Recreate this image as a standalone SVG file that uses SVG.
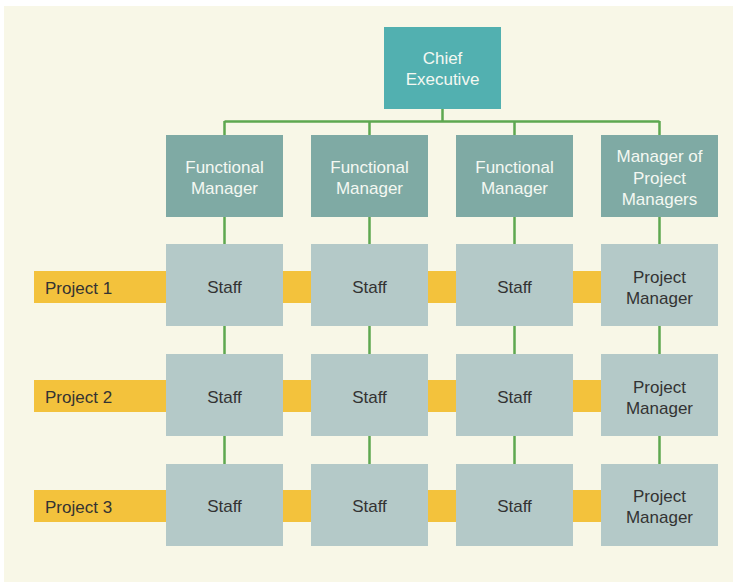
<svg xmlns="http://www.w3.org/2000/svg" width="733" height="582" viewBox="0 0 733 582">
<style>
.bg{fill:#F8F7E7}
.bar{fill:#F3C23C}
.ceo{fill:#52B0B0}
.fm{fill:#7FAAA4}
.st{fill:#B4C9C8}
.ln{stroke:#5EA850;stroke-width:2.5;fill:none}
text{font-family:"Liberation Sans",Arial,sans-serif;font-size:17px}
.w{fill:#F4F8F2;text-anchor:middle}
.d{fill:#333333;text-anchor:middle}
.p{fill:#333333}
</style>
<rect class="bg" x="4" y="6" width="729" height="576"/>
<g id="connectors">
<path class="ln" d="M442.5 108V121.5M224.5 121.5H659.5M224.5 121V135M369.5 121V135M514.5 121V135M659.5 121V135"/>
<path class="ln" d="M224.5 217V464M369.5 217V464M514.5 217V464M659.5 217V464"/>
</g>
<g id="project-bars">
<rect class="bar" x="34" y="271" width="567" height="32"/>
<rect class="bar" x="34" y="380" width="567" height="32"/>
<rect class="bar" x="34" y="490" width="567" height="32"/>
<text class="p" x="45" y="294">Project 1</text>
<text class="p" x="45" y="403">Project 2</text>
<text class="p" x="45" y="513">Project 3</text>
</g>
<g id="chief"><rect class="ceo" x="384" y="27" width="117" height="82"/><text class="w" x="442.5" y="64">Chief</text><text class="w" x="442.5" y="85">Executive</text></g>
<g id="fm1"><rect class="fm" x="166" y="135" width="117" height="82"/><text class="w" x="224.5" y="173">Functional</text><text class="w" x="224.5" y="194">Manager</text></g>
<g id="fm2"><rect class="fm" x="311" y="135" width="117" height="82"/><text class="w" x="369.5" y="173">Functional</text><text class="w" x="369.5" y="194">Manager</text></g>
<g id="fm3"><rect class="fm" x="456" y="135" width="117" height="82"/><text class="w" x="514.5" y="173">Functional</text><text class="w" x="514.5" y="194">Manager</text></g>
<g id="mpm"><rect class="fm" x="601" y="135" width="117" height="82"/><text class="w" x="659.5" y="162">Manager of</text><text class="w" x="659.5" y="184">Project</text><text class="w" x="659.5" y="205">Managers</text></g>
<g id="s11"><rect class="st" x="166" y="244" width="117" height="82"/><text class="d" x="224.5" y="293">Staff</text></g>
<g id="s12"><rect class="st" x="311" y="244" width="117" height="82"/><text class="d" x="369.5" y="293">Staff</text></g>
<g id="s13"><rect class="st" x="456" y="244" width="117" height="82"/><text class="d" x="514.5" y="293">Staff</text></g>
<g id="pm1"><rect class="st" x="601" y="244" width="117" height="82"/><text class="d" x="659.5" y="283">Project</text><text class="d" x="659.5" y="304">Manager</text></g>
<g id="s21"><rect class="st" x="166" y="354" width="117" height="82"/><text class="d" x="224.5" y="403">Staff</text></g>
<g id="s22"><rect class="st" x="311" y="354" width="117" height="82"/><text class="d" x="369.5" y="403">Staff</text></g>
<g id="s23"><rect class="st" x="456" y="354" width="117" height="82"/><text class="d" x="514.5" y="403">Staff</text></g>
<g id="pm2"><rect class="st" x="601" y="354" width="117" height="82"/><text class="d" x="659.5" y="393">Project</text><text class="d" x="659.5" y="414">Manager</text></g>
<g id="s31"><rect class="st" x="166" y="464" width="117" height="82"/><text class="d" x="224.5" y="512">Staff</text></g>
<g id="s32"><rect class="st" x="311" y="464" width="117" height="82"/><text class="d" x="369.5" y="512">Staff</text></g>
<g id="s33"><rect class="st" x="456" y="464" width="117" height="82"/><text class="d" x="514.5" y="512">Staff</text></g>
<g id="pm3"><rect class="st" x="601" y="464" width="117" height="82"/><text class="d" x="659.5" y="502">Project</text><text class="d" x="659.5" y="523">Manager</text></g>
</svg>
